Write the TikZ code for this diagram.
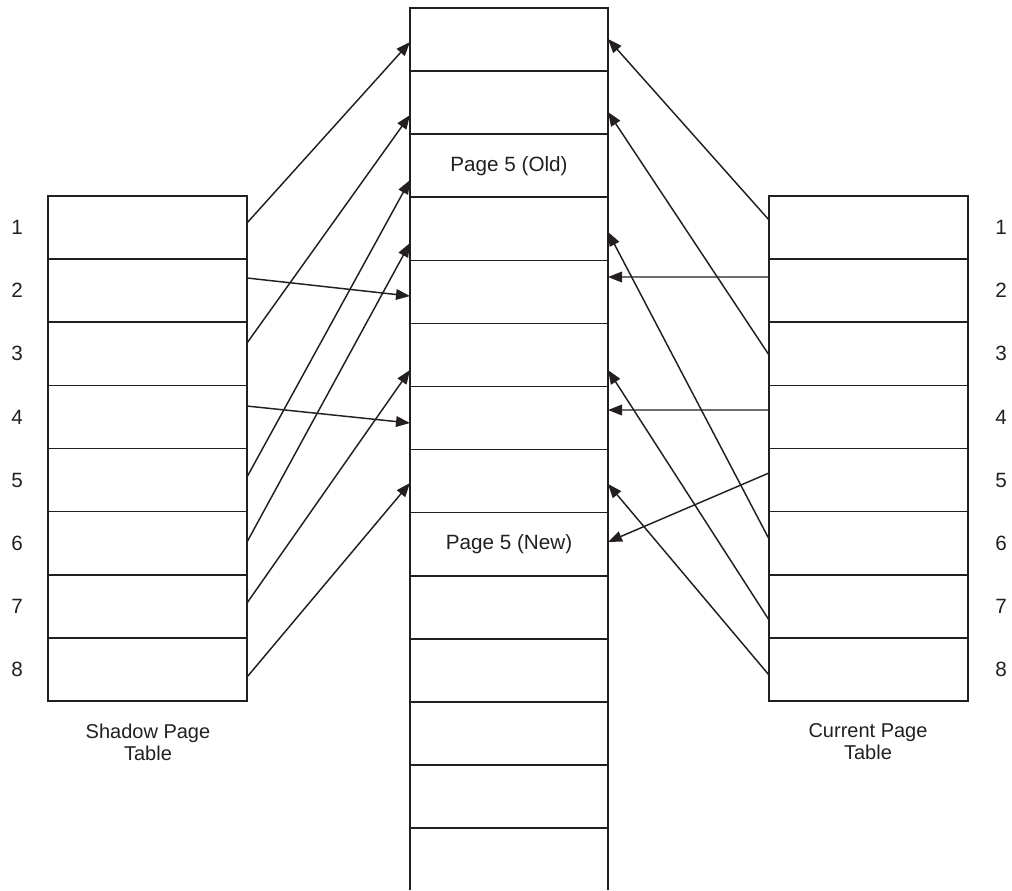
\documentclass[tikz,border=0pt]{standalone}
\usepackage{fontspec}
\setmainfont{Liberation Sans}
\usetikzlibrary{calc,arrows.meta}
\definecolor{ink}{HTML}{231F20}
\begin{document}
\begin{tikzpicture}[x=0.75pt,y=-0.75pt,
  cell/.style={draw=ink, line width=1.2pt, inner sep=0pt, outer sep=0pt, minimum width=149.25pt, minimum height=47.34pt},
  mcell/.style={cell, minimum width=148.5pt, minimum height=47.31pt},
  lbl/.style={text=ink, font=\fontsize{15.5}{18}\selectfont, inner sep=0pt},
  captext/.style={lbl, align=center, font=\fontsize{15}{16.5}\selectfont},
  arr/.style={draw=ink, line width=1.1pt, -{Triangle[length=10.5pt,width=8pt]}}]
\useasboundingbox (0,0) rectangle (1012,890);
% left and right tables
\foreach \i in {1,...,8}{
  \node[cell] (L\i) at (147.5,{196+63.125*(\i-0.5)}) {};
  \node[cell] (R\i) at (868.5,{196+63.125*(\i-0.5)}) {};
  \node[lbl] (ln\i) at (17,{196+63.125*(\i-0.5)}) {\i};
  \node[lbl] (rn\i) at (1001,{196+63.125*(\i-0.5)}) {\i};
}
% middle column
\foreach \j in {1,...,13}{
  \node[mcell] (M\j) at (509,{8+63.0769*(\j-0.5)}) {};
}
\node[mcell, draw=none, minimum height=46.5pt] (M14) at (509,859) {};
\draw[ink, line width=1.2pt] (M14.north west) -- (M14.south west);
\draw[ink, line width=1.2pt] (M14.north east) -- (M14.south east);
\node[lbl] (t3) at (M3) {Page 5 (Old)};
\node[lbl] (t9) at (M9) {Page 5 (New)};
% captions
\node[captext] (cs) at (148,742) {Shadow Page\\Table};
\node[captext] (cc) at (868,742) {Current Page\\Table};
% shadow page table arrows
\draw[arr] ($(L1.east)+(0,-4.6)$) -- ($(M1.west)+(0,2.5)$);
\draw[arr] ($(L2.east)+(0,-12.7)$) -- ($(M5.west)+(0,4.2)$);
\draw[arr] ($(L3.east)+(0,-10.8)$) -- ($(M2.west)+(0,12.4)$);
\draw[arr] ($(L4.east)+(0,-10.9)$) -- ($(M7.west)+(0,5)$);
\draw[arr] ($(L5.east)+(0,-3.1)$) -- ($(M3.west)+(0,14.3)$);
\draw[arr] ($(L6.east)+(0,-1.2)$) -- ($(M4.west)+(0,14.2)$);
\draw[arr] ($(L7.east)+(0,-3.3)$) -- ($(M6.west)+(0,15.1)$);
\draw[arr] ($(L8.east)+(0,7.6)$) -- ($(M8.west)+(0,1.9)$);
% current page table arrows
\draw[arr] ($(R1.west)+(0,-7.6)$) -- ($(M1.east)+(0,-0.5)$);
\draw[arr] ($(R2.west)+(0,-13.6875)$) -- ($(M5.east)+(0,-14.846)$);
\draw[arr] ($(R3.west)+(0,1.2)$) -- ($(M2.east)+(0,9.4)$);
\draw[arr] ($(R4.west)+(0,-6.94)$) -- ($(M7.east)+(0,-8.0)$);
\draw[arr] ($(R5.west)+(0,-7.1)$) -- ($(M9.east)+(0,-2.2)$);
\draw[arr] ($(R6.west)+(0,-4.2)$) -- ($(M4.east)+(0,3.2)$);
\draw[arr] ($(R7.west)+(0,13.7)$) -- ($(M6.east)+(0,15.1)$);
\draw[arr] ($(R8.west)+(0,5.6)$) -- ($(M8.east)+(0,2.9)$);
\end{tikzpicture}
\end{document}
